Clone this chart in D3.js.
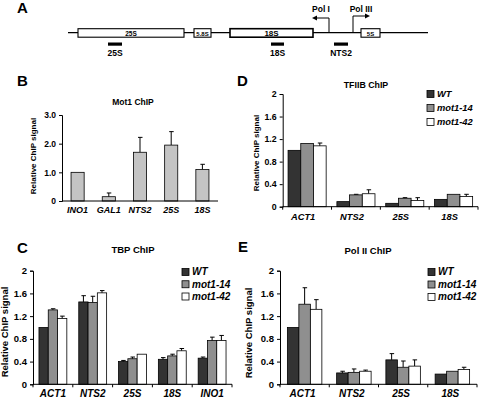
<!DOCTYPE html>
<html>
<head>
<meta charset="utf-8">
<script src="https://cdn.jsdelivr.net/npm/d3@7"></script>
<style>
  body { margin: 0; background: #fff; }
  svg { font-family: "Liberation Sans", Arial, sans-serif; }
  .tick text { font-weight: bold; }
</style>
</head>
<body>
<div id="fig"></div>
<script>
// ---- data ----
var strains = ["WT", "mot1-14", "mot1-42"];
var strainColors = ["#333333", "#8f8f8f", "#ffffff"];

// B: Mot1 ChIP
var bGenes = ["INO1", "GAL1", "NTS2", "25S", "18S"];
var bMot1 = [1.0, 0.15, 1.7, 1.95, 1.1];
var bMot1Err = [0, 0.13, 0.52, 0.47, 0.18];

// C: TBP ChIP
var cGenes = ["ACT1", "NTS2", "25S", "18S", "INO1"];
var cWT = [1.0, 1.45, 0.40, 0.44, 0.46];
var cWTErr = [0, 0.11, 0.02, 0.03, 0.02];
var c14 = [1.31, 1.44, 0.45, 0.50, 0.77];
var c14Err = [0.02, 0.11, 0.03, 0.03, 0.06];
var c42 = [1.16, 1.61, 0.53, 0.59, 0.77];
var c42Err = [0.04, 0.04, 0, 0.04, 0.09];

// D: TFIIB ChIP
var dGenes = ["ACT1", "NTS2", "25S", "18S"];
var dWT = [1.0, 0.09, 0.06, 0.13];
var dWTErr = [0, 0, 0, 0];
var d14 = [1.12, 0.21, 0.15, 0.22];
var d14Err = [0, 0.01, 0.01, 0];
var d42 = [1.08, 0.23, 0.11, 0.18];
var d42Err = [0.05, 0.07, 0.05, 0.04];

// E: Pol II ChIP
var eGenes = ["ACT1", "NTS2", "25S", "18S"];
var eWT = [1.0, 0.20, 0.43, 0.18];
var eWTErr = [0, 0.03, 0.11, 0];
var e14 = [1.41, 0.21, 0.30, 0.23];
var e14Err = [0.29, 0.06, 0.11, 0];
var e42 = [1.32, 0.23, 0.32, 0.26];
var e42Err = [0.17, 0.02, 0.11, 0.04];

var ticks2 = [0, 0.4, 0.8, 1.2, 1.6, 2];
var ticks3 = [0, 1, 2, 3];

// A: rDNA repeat map (arbitrary units along the repeat)
var mapBoxes = [
  {name: "25S", start: 10, end: 116, fs: 6.5},
  {name: "5.8S", start: 126, end: 143, fs: 6},
  {name: "18S", start: 162, end: 245, fs: 8},
  {name: "5S", start: 293, end: 312, fs: 6}
];
var mapProbes = [
  {name: "25S", start: 40, end: 54},
  {name: "18S", start: 203, end: 216},
  {name: "NTS2", start: 266, end: 280}
];
var mapPromoters = [
  {name: "Pol I", pos: 261, dir: -1, top: 18},
  {name: "Pol III", pos: 285, dir: 1, top: 16}
];

var W = 480, H = 399;
var svg = d3.select("#fig").append("svg")
  .attr("width", W).attr("height", H);

// ---- panel letters ----
var letters = [["A", 17, 13], ["B", 17, 86], ["C", 17, 253], ["D", 237, 86], ["E", 238, 252]];
svg.selectAll("text.letter").data(letters).enter().append("text")
  .attr("class", "letter")
  .attr("x", function(d) { return d[1]; })
  .attr("y", function(d) { return d[2]; })
  .attr("font-size", 15).attr("font-weight", "bold")
  .text(function(d) { return d[0]; });

// ---- panel A ----
var mx = d3.scaleLinear().domain([0, 360]).range([68, 428]);
var gA = svg.append("g");
var lineY = 32.7;
gA.append("line").attr("x1", mx(0)).attr("x2", mx(360))
  .attr("y1", lineY).attr("y2", lineY).attr("stroke", "#000").attr("stroke-width", 1.2);
gA.selectAll("rect.box").data(mapBoxes).enter().append("rect")
  .attr("x", function(d) { return mx(d.start); })
  .attr("width", function(d) { return mx(d.end) - mx(d.start); })
  .attr("y", 28.7).attr("height", 8.5)
  .attr("fill", "#fff").attr("stroke", "#000")
  .attr("stroke-width", function(d) { return d.name == "18S" ? 1.6 : 1.1; });
gA.selectAll("text.box").data(mapBoxes).enter().append("text")
  .attr("x", function(d) { return (mx(d.start) + mx(d.end)) / 2; })
  .attr("y", 35.5).attr("text-anchor", "middle")
  .attr("font-size", function(d) { return d.fs; }).attr("font-weight", "bold")
  .text(function(d) { return d.name; });
gA.selectAll("rect.probe").data(mapProbes).enter().append("rect")
  .attr("x", function(d) { return mx(d.start); })
  .attr("width", function(d) { return mx(d.end) - mx(d.start); })
  .attr("y", 42.5).attr("height", 3.2).attr("fill", "#000");
gA.selectAll("text.probe").data(mapProbes).enter().append("text")
  .attr("x", function(d) { return (mx(d.start) + mx(d.end)) / 2; })
  .attr("y", 56).attr("text-anchor", "middle")
  .attr("font-size", 8.5).attr("font-weight", "bold")
  .text(function(d) { return d.name; });
var prom = gA.selectAll("g.prom").data(mapPromoters).enter().append("g");
prom.append("path")
  .attr("d", function(d) {
    var x = mx(d.pos);
    return "M" + x + "," + lineY + "V" + d.top + "H" + (x + d.dir * 14);
  })
  .attr("fill", "none").attr("stroke", "#000").attr("stroke-width", 1);
prom.append("path")
  .attr("d", function(d) {
    var x = mx(d.pos) + d.dir * 17, y = d.top;
    return "M" + x + "," + y + "L" + (x - d.dir * 5) + "," + (y - 2.5) + "L" + (x - d.dir * 5) + "," + (y + 2.5) + "Z";
  })
  .attr("fill", "#000");
prom.append("text")
  .attr("x", function(d) { return mx(d.pos) + d.dir * 8; })
  .attr("y", 12).attr("text-anchor", "middle")
  .attr("font-size", 8.5).attr("font-weight", "bold")
  .text(function(d) { return d.name; });

// ---- bar panels ----
function drawPanel(p) {
  var g = svg.append("g");
  var x = d3.scaleBand().domain(p.genes).range([p.x0, p.x1]).paddingInner(p.pad).paddingOuter(p.pad / 2);
  var y = d3.scaleLinear().domain([0, p.ymax]).range([p.y0, p.y1]);
  var sub = d3.scaleBand().domain(d3.range(p.series.length)).range([0, x.bandwidth()]);
  var fs = p.fs;

  // bars + error bars
  p.series.forEach(function(s, si) {
    var rows = p.genes.map(function(gname, i) {
      return {gene: gname, v: s.values[i], e: s.err[i]};
    });
    var gx = function(d) { return x(d.gene) + sub(si); };
    g.selectAll(null).data(rows.filter(function(d) { return d.e > 0; })).enter().append("path")
      .attr("d", function(d) {
        var cx = gx(d) + sub.bandwidth() / 2, ty = y(d.v + d.e);
        return "M" + cx + "," + y(d.v) + "V" + ty + "M" + (cx - 2) + "," + ty + "H" + (cx + 2.5);
      })
      .attr("stroke", "#000").attr("stroke-width", 1).attr("fill", "none");
    g.selectAll(null).data(rows).enter().append("rect")
      .attr("x", gx)
      .attr("width", sub.bandwidth())
      .attr("y", function(d) { return y(d.v); })
      .attr("height", function(d) { return y(0) - y(d.v); })
      .attr("fill", s.color).attr("stroke", "#000").attr("stroke-width", 0.8);
  });

  // y axis
  var ya = g.append("g").attr("transform", "translate(" + p.x0 + ",0)")
    .call(d3.axisLeft(y).tickValues(p.ticks).tickSize(3).tickPadding(3).tickFormat(p.fmt));
  ya.selectAll("text").attr("font-size", fs).attr("fill", "#000");
  ya.select(".domain").attr("stroke-width", 1);

  // x axis line + ticks
  var xa = g.append("g").attr("transform", "translate(0," + p.y0 + ")");
  xa.append("line").attr("x1", p.x0).attr("x2", p.x1).attr("stroke", "#000").attr("stroke-width", 1);
  if (p.xticks) {
    var bounds = p.genes.map(function(gname) { return x(gname) - x.step() * p.pad / 2; }).concat([p.x1]);
    xa.selectAll(null).data(bounds).enter().append("line")
      .attr("x1", function(d) { return d; }).attr("x2", function(d) { return d; })
      .attr("y1", 0).attr("y2", 3).attr("stroke", "#000");
  }
  xa.selectAll(null).data(p.genes).enter().append("text")
    .attr("x", function(d) { return x(d) + x.bandwidth() / 2 + (p.labShift || 0); })
    .attr("y", p.labY - p.y0).attr("text-anchor", "middle")
    .attr("font-size", fs + 0.5).attr("font-weight", "bold").attr("font-style", "italic")
    .text(function(d) { return d; });

  // titles
  g.append("text").attr("x", p.titleX).attr("y", p.titleY).attr("text-anchor", "middle")
    .attr("font-size", fs).attr("font-weight", "bold").text(p.title);
  g.append("text")
    .attr("transform", "translate(" + p.ylabX + "," + p.ylabY + ") rotate(-90)")
    .attr("text-anchor", "middle").attr("font-size", p.ylabFs).attr("font-weight", "bold")
    .text("Relative ChIP signal");

  // legend
  if (p.legend) {
    var lg = g.append("g").attr("transform", "translate(" + p.legend[0] + "," + p.legend[1] + ")");
    var ly = d3.scalePoint().domain(strains).range([0, p.legend[2]]);
    lg.selectAll(null).data(p.series).enter().append("rect")
      .attr("x", 0).attr("y", function(d) { return ly(d.name) - 3.5; })
      .attr("width", 7).attr("height", 7)
      .attr("fill", function(d) { return d.color; }).attr("stroke", "#000").attr("stroke-width", 0.8);
    lg.selectAll(null).data(p.series).enter().append("text")
      .attr("x", 10).attr("y", function(d) { return ly(d.name) + fs * 0.36; })
      .attr("font-size", fs + 0.5).attr("font-weight", "bold").attr("font-style", "italic")
      .text(function(d) { return d.name; });
  }
}

function seriesOf(vals, errs) {
  return strains.map(function(s, i) {
    return {name: s, color: strainColors[i], values: vals[i], err: errs[i]};
  });
}

drawPanel({
  genes: bGenes, x0: 62, x1: 218, y0: 201, y1: 115, ymax: 3, pad: 0.58,
  series: [{name: "Mot1", color: "#c4c4c4", values: bMot1, err: bMot1Err}],
  ticks: ticks3, fmt: function(d) { return d == 0 ? "0" : d3.format(".1f")(d); },
  fs: 8.5, labY: 213, title: "Mot1 ChIP", titleX: 133, titleY: 105,
  ylabX: 36, ylabY: 156, ylabFs: 8, xticks: false
});

drawPanel({
  genes: cGenes, x0: 33, x1: 232, y0: 384.3, y1: 270.7, ymax: 2, pad: 0.3,
  series: seriesOf([cWT, c14, c42], [cWTErr, c14Err, c42Err]),
  ticks: ticks2, fmt: function(d) { return d == 0 ? "0" : d3.format("")(d); },
  fs: 9.5, labY: 397, title: "TBP ChIP", titleX: 133, titleY: 253,
  ylabX: 8, ylabY: 332, ylabFs: 9.5, xticks: true, legend: [182, 272, 24.5]
});

drawPanel({
  genes: dGenes, x0: 282.7, x1: 478, y0: 206.7, y1: 94, ymax: 2, pad: 0.22,
  series: seriesOf([dWT, d14, d42], [dWTErr, d14Err, d42Err]),
  ticks: ticks2, fmt: function(d) { return d == 0 ? "0" : d3.format("")(d); },
  fs: 8.8, labY: 220, title: "TFIIB ChIP", titleX: 366, titleY: 88, labShift: -4,
  ylabX: 259, ylabY: 153, ylabFs: 8, xticks: true, legend: [427, 94, 28]
});

drawPanel({
  genes: eGenes, x0: 280, x1: 477, y0: 384.3, y1: 270.7, ymax: 2, pad: 0.3,
  series: seriesOf([eWT, e14, e42], [eWTErr, e14Err, e42Err]),
  ticks: ticks2, fmt: function(d) { return d == 0 ? "0" : d3.format("")(d); },
  fs: 9.5, labY: 397, title: "Pol II ChIP", titleX: 368, titleY: 254, labShift: -2,
  ylabX: 252, ylabY: 333, ylabFs: 9.5, xticks: true, legend: [428, 272, 25]
});
</script>
</body>
</html>
